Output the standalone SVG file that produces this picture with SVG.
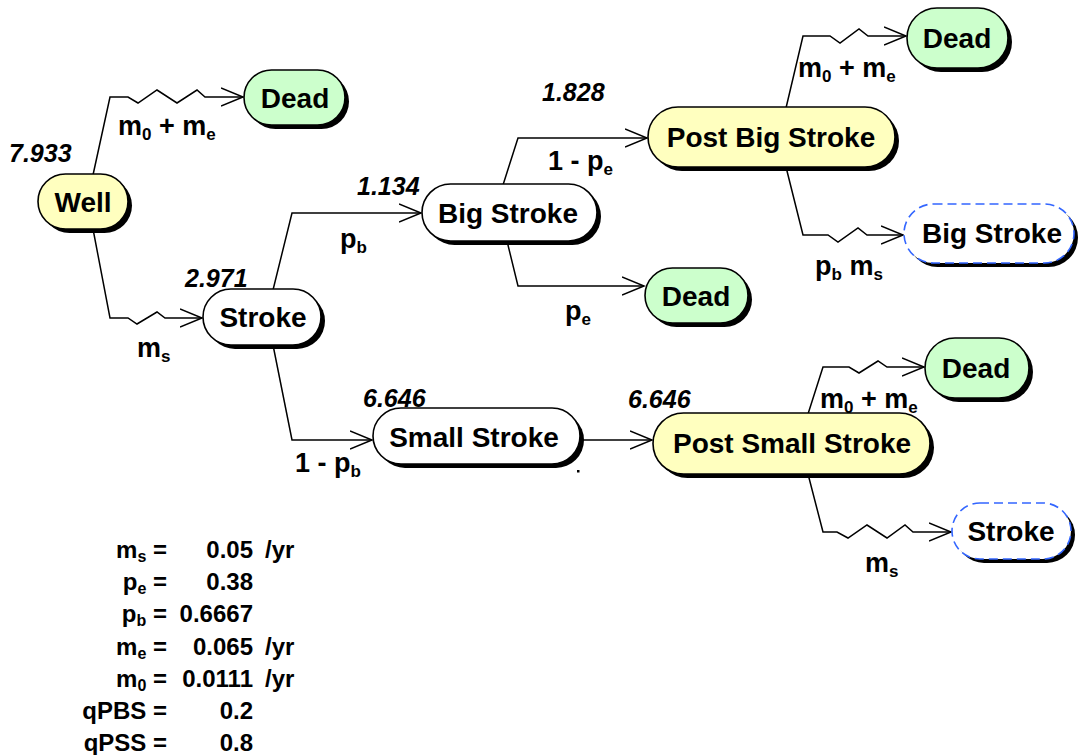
<svg xmlns="http://www.w3.org/2000/svg" width="1078" height="755" viewBox="0 0 1078 755">
  <style>
    .shadow { fill: #000000; }
    .node { stroke: #000000; stroke-width: 1.6; }
    .well { fill: #FFFFBF; }
    .dead { fill: #CCFFCC; }
    .plain { fill: #FFFFFF; }
    .clone { fill: #FFFFFF; stroke: #3366FF; stroke-width: 1.6; stroke-dasharray: 9 5; }
    .label { font-family: "Liberation Sans", Arial, sans-serif; font-weight: bold; font-size: 28px; text-anchor: middle; fill: #000000; }
    .edge { fill: none; stroke: #000000; stroke-width: 1.5; stroke-linejoin: miter; }
    .prob { font-family: "Liberation Sans", Arial, sans-serif; font-weight: bold; font-size: 27px; fill: #000000; }
    .sub { font-size: 17px; }
    .value { font-family: "Liberation Sans", Arial, sans-serif; font-weight: bold; font-style: italic; font-size: 25px; fill: #000000; }
    .param { font-family: "Liberation Sans", Arial, sans-serif; font-weight: bold; font-size: 24px; fill: #000000; }
    .psub { font-size: 16px; }
  </style>
  <defs>
    <marker id="arrow" markerUnits="userSpaceOnUse" markerWidth="26" markerHeight="22" refX="22" refY="10" orient="auto">
      <path d="M0,1 L22,10 L0,19" fill="none" stroke="#000000" stroke-width="1.5"/>
    </marker>
  </defs>

  <rect width="1078" height="755" fill="#FFFFFF"/>

  <!-- connectors -->
  <g id="connectors">
    <path class="edge" marker-end="url(#arrow)" d="M93,175 L110,97 L128,97 L138,103 L157,90 L177,103 L197,90 L205,97 L243,97"/>
    <path class="edge" marker-end="url(#arrow)" d="M93,229 L110,318 L128,318 L137,324 L157,312 L165,318 L202,318"/>
    <path class="edge" marker-end="url(#arrow)" d="M273,290 L292,213 L421,213"/>
    <path class="edge" marker-end="url(#arrow)" d="M273,345 L292,440 L372,440"/>
    <path class="edge" marker-end="url(#arrow)" d="M503,185 L518,138 L647,138"/>
    <path class="edge" marker-end="url(#arrow)" d="M507,241 L518,286 L644,286"/>
    <path class="edge" marker-end="url(#arrow)" d="M786,108 L803,36 L830,36 L840,43 L859,29 L868,36 L906,36"/>
    <path class="edge" marker-end="url(#arrow)" d="M786,167 L803,235 L828,235 L838,242 L858,228 L867,235 L903,235"/>
    <path class="edge" marker-end="url(#arrow)" d="M580,440 L652,440"/>
    <path class="edge" marker-end="url(#arrow)" d="M808,414 L823,367 L849,367 L859,373 L878,361 L887,367 L924,367"/>
    <path class="edge" marker-end="url(#arrow)" d="M808,474 L823,532 L837,532 L848,538 L867,525 L887,538 L905,525 L913,532 L951,532"/>
  </g>

  <!-- states -->
  <g id="node-well">
    <rect class="shadow" x="42" y="178" width="90" height="55" rx="27.5"/>
    <rect class="node well" x="38" y="174" width="90" height="55" rx="27.5"/>
    <text class="label" x="83" y="211.5">Well</text>
  </g>
  <g id="node-dead-1">
    <rect class="shadow" x="248" y="74" width="101" height="55" rx="27.5"/>
    <rect class="node dead" x="244" y="70" width="101" height="55" rx="27.5"/>
    <text class="label" x="295" y="107.5">Dead</text>
  </g>
  <g id="node-stroke">
    <rect class="shadow" x="207" y="293" width="118" height="56" rx="28"/>
    <rect class="node plain" x="203" y="289" width="118" height="56" rx="28"/>
    <text class="label" x="263" y="327">Stroke</text>
  </g>
  <g id="node-big-stroke">
    <rect class="shadow" x="426" y="188" width="175" height="57" rx="28.5"/>
    <rect class="node plain" x="422" y="184" width="175" height="57" rx="28.5"/>
    <text class="label" x="508" y="222.5">Big Stroke</text>
  </g>
  <g id="node-dead-2">
    <rect class="shadow" x="649" y="272" width="103" height="55" rx="27.5"/>
    <rect class="node dead" x="645" y="268" width="103" height="55" rx="27.5"/>
    <text class="label" x="696" y="305.5">Dead</text>
  </g>
  <g id="node-post-big-stroke">
    <rect class="shadow" x="652" y="111" width="247" height="60" rx="30"/>
    <rect class="node well" x="648" y="107" width="247" height="60" rx="30"/>
    <text class="label" x="771" y="146.5">Post Big Stroke</text>
  </g>
  <g id="node-dead-3">
    <rect class="shadow" x="911" y="12" width="101" height="60" rx="30"/>
    <rect class="node dead" x="907" y="8" width="101" height="60" rx="30"/>
    <text class="label" x="957" y="48">Dead</text>
  </g>
  <g id="node-big-stroke-clone">
    <rect class="shadow" x="908" y="208" width="170" height="59" rx="29.5"/>
    <rect class="clone" x="904" y="204" width="170" height="59" rx="29.5"/>
    <text class="label" x="992" y="243">Big Stroke</text>
  </g>
  <g id="node-small-stroke">
    <rect class="shadow" x="377" y="412" width="207" height="56" rx="28"/>
    <rect class="node plain" x="373" y="408" width="207" height="56" rx="28"/>
    <text class="label" x="474" y="447">Small Stroke</text>
    <rect x="577" y="470" width="2.5" height="2.5" fill="#000000"/>
  </g>
  <g id="node-post-small-stroke">
    <rect class="shadow" x="657" y="417" width="277" height="61" rx="30.5"/>
    <rect class="node well" x="653" y="413" width="277" height="61" rx="30.5"/>
    <text class="label" x="792" y="453">Post Small Stroke</text>
  </g>
  <g id="node-dead-4">
    <rect class="shadow" x="929" y="342" width="104" height="60" rx="30"/>
    <rect class="node dead" x="925" y="338" width="104" height="60" rx="30"/>
    <text class="label" x="976" y="378">Dead</text>
  </g>
  <g id="node-stroke-clone">
    <rect class="shadow" x="956" y="507" width="119" height="56" rx="28"/>
    <rect class="clone" x="952" y="503" width="119" height="56" rx="28"/>
    <text class="label" x="1011" y="541">Stroke</text>
  </g>

  <!-- transition labels -->
  <g id="edge-labels">
    <text class="prob" x="118" y="135">m<tspan class="sub" dy="5">0</tspan><tspan dy="-5"> + m</tspan><tspan class="sub" dy="5">e</tspan></text>
    <text class="prob" x="137" y="357">m<tspan class="sub" dy="5">s</tspan></text>
    <text class="prob" x="340" y="248">p<tspan class="sub" dy="5">b</tspan></text>
    <text class="prob" x="295" y="472">1 - p<tspan class="sub" dy="5">b</tspan></text>
    <text class="prob" x="548" y="170">1 - p<tspan class="sub" dy="5">e</tspan></text>
    <text class="prob" x="565" y="320">p<tspan class="sub" dy="5">e</tspan></text>
    <text class="prob" x="798" y="77">m<tspan class="sub" dy="5">0</tspan><tspan dy="-5"> + m</tspan><tspan class="sub" dy="5">e</tspan></text>
    <text class="prob" x="815" y="275">p<tspan class="sub" dy="5">b</tspan><tspan dy="-5"> m</tspan><tspan class="sub" dy="5">s</tspan></text>
    <text class="prob" x="820" y="408">m<tspan class="sub" dy="5">0</tspan><tspan dy="-5"> + m</tspan><tspan class="sub" dy="5">e</tspan></text>
    <text class="prob" x="865" y="572">m<tspan class="sub" dy="5">s</tspan></text>
  </g>

  <!-- expected values -->
  <g id="state-values">
    <text class="value" x="9" y="162">7.933</text>
    <text class="value" x="185" y="287">2.971</text>
    <text class="value" x="357" y="195">1.134</text>
    <text class="value" x="542" y="101">1.828</text>
    <text class="value" x="363" y="407">6.646</text>
    <text class="value" x="628" y="408">6.646</text>
  </g>

  <!-- parameter table -->
  <g id="parameters">
    <g text-anchor="end">
      <text class="param" x="167" y="558">m<tspan class="psub" dy="4">s</tspan><tspan dy="-4"> =</tspan></text>
      <text class="param" x="167" y="590">p<tspan class="psub" dy="4">e</tspan><tspan dy="-4"> =</tspan></text>
      <text class="param" x="167" y="622">p<tspan class="psub" dy="4">b</tspan><tspan dy="-4"> =</tspan></text>
      <text class="param" x="167" y="655">m<tspan class="psub" dy="4">e</tspan><tspan dy="-4"> =</tspan></text>
      <text class="param" x="167" y="687">m<tspan class="psub" dy="4">0</tspan><tspan dy="-4"> =</tspan></text>
      <text class="param" x="167" y="719">qPBS =</text>
      <text class="param" x="167" y="751">qPSS =</text>
      <text class="param" x="253" y="558">0.05</text>
      <text class="param" x="253" y="590">0.38</text>
      <text class="param" x="253" y="622">0.6667</text>
      <text class="param" x="253" y="655">0.065</text>
      <text class="param" x="253" y="687">0.0111</text>
      <text class="param" x="253" y="719">0.2</text>
      <text class="param" x="253" y="751">0.8</text>
    </g>
    <text class="param" x="265" y="558">/yr</text>
    <text class="param" x="265" y="655">/yr</text>
    <text class="param" x="265" y="687">/yr</text>
  </g>
</svg>
